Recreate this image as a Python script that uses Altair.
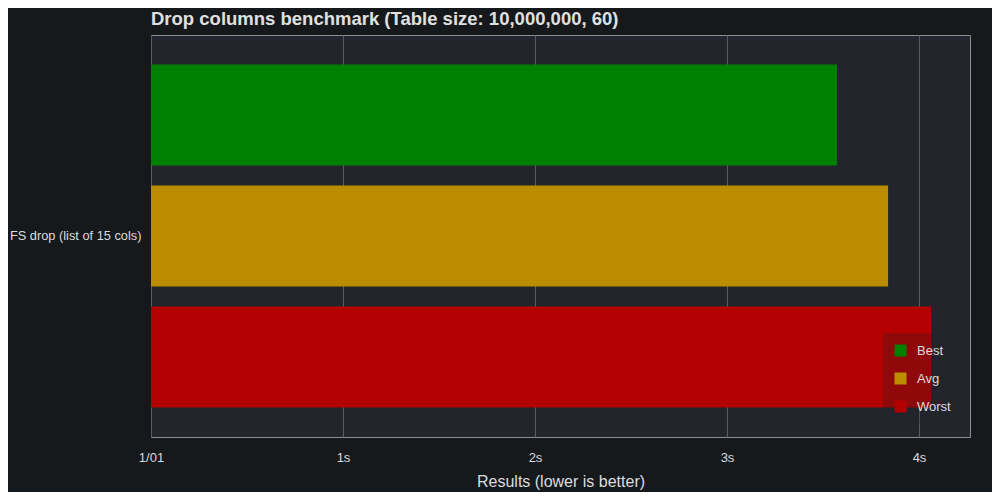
import altair as alt
import pandas as pd

# data (seconds)
category = ["FS drop (list of 15 cols)"]
series = ["Best", "Avg", "Worst"]
values = [3.573, 3.839, 4.0625]
colors = ["#008000", "#bc8c00", "#b30000"]
tick_values = [0, 1, 2, 3, 4]

df = pd.DataFrame({
    "test": category * len(series),
    "stat": series,
    "time": values,
})

FONT = "Liberation Sans"

chart = alt.Chart(df).mark_bar().encode(
    y=alt.Y("test:N", title=None,
            scale=alt.Scale(paddingInner=0, paddingOuter=0),
            axis=alt.Axis(ticks=False, domain=False, labelPadding=10,
                          labelFontSize=12.8, labelColor="#dcdcdc", labelFont=FONT,
                          labelLimit=300)),
    yOffset=alt.YOffset("stat:N", sort=series,
                        scale=alt.Scale(paddingInner=0.165, paddingOuter=0.244)),
    x=alt.X("time:Q", title="Results (lower is better)",
            scale=alt.Scale(domain=[0, max(values) * 1.05], nice=False),
            axis=alt.Axis(values=tick_values, ticks=False, domain=False,
                          labelExpr="datum.value == 0 ? '1/01' : format(datum.value, 'd') + 's'",
                          labelFlush=False,
                          labelPadding=14, labelFontSize=13, labelColor="#dcdcdc",
                          labelFont=FONT, titleFont=FONT, titleFontSize=16,
                          titleFontWeight="normal", titleColor="#dcdcdc", titlePadding=9,
                          grid=True, gridColor="#5a5d63", gridWidth=1)),
    color=alt.Color("stat:N", sort=series,
                    scale=alt.Scale(domain=series, range=colors),
                    legend=alt.Legend(title=None, orient="none", legendX=732, legendY=298,
                                      symbolType="square", symbolSize=144,
                                      symbolStrokeWidth=0, labelFont=FONT,
                                      labelFontSize=13, labelColor="#dcdcdc",
                                      labelOffset=10, rowPadding=14, padding=11,
                                      fillColor="rgba(34,37,43,0.25)")),
).properties(
    width=819,
    height=402,
    title=alt.TitleParams("Drop columns benchmark (Table size: 10,000,000, 60)",
                          anchor="start", frame="group", font=FONT, fontSize=18.5,
                          fontWeight="bold", color="#e0e0e0", offset=7),
    background="#16191c",
    padding={"left": 143, "top": 27, "right": 22, "bottom": 55},
    autosize=alt.AutoSizeParams(type="none"),
).configure_view(
    fill="#22252b", stroke="#8a8d92", strokeWidth=1,
)

chart.save("out.html", embed_options={"renderer": "svg", "actions": False})
